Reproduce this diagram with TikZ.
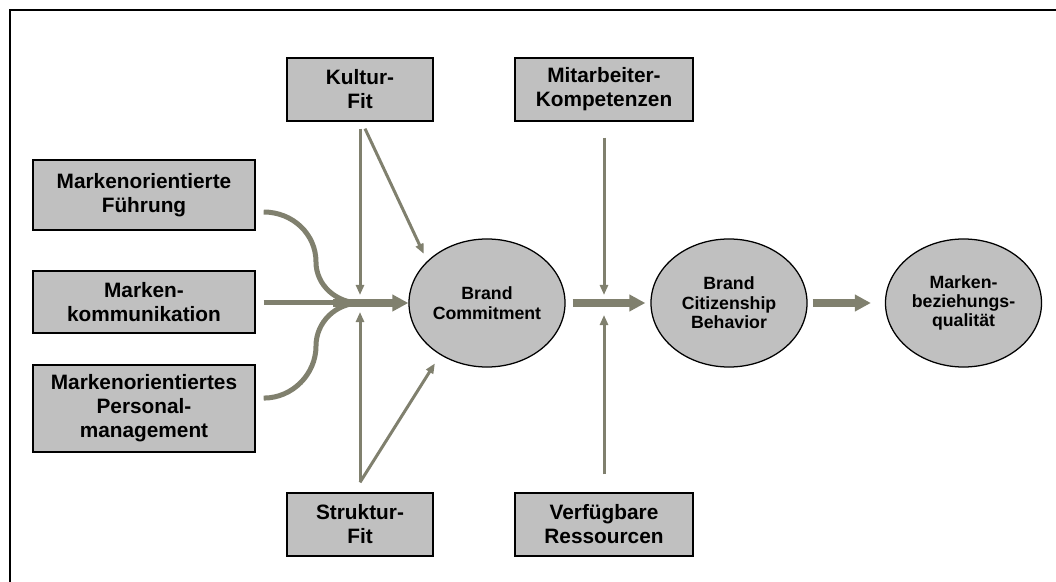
\documentclass[tikz,border=0pt]{standalone}
\usepackage{fontspec}
\setmainfont{Liberation Sans}
\usetikzlibrary{arrows.meta,shapes.geometric}
\definecolor{pfeilgrau}{RGB}{128,128,110}
\definecolor{kastengrau}{RGB}{192,192,192}

\begin{document}
\begin{tikzpicture}[x=0.025cm, y=-0.025cm,
	kasten/.style={draw=black, line width=0.9pt, fill=kastengrau, inner sep=0pt, align=center, font=\fontsize{14.8}{17}\selectfont\bfseries},
	oval/.style={ellipse, draw=black, line width=0.9pt, fill=kastengrau, inner sep=0pt, minimum width=3.9cm, minimum height=3.2cm, align=center, font=\fontsize{12.6}{13.8}\selectfont\bfseries},
	pfeil/.style={draw=pfeilgrau, line width=0.075cm, -{Triangle[length=0.25cm, width=0.2cm]}},
	strang/.style={draw=pfeilgrau, line width=0.125cm},
	dickpfeil/.style={draw=pfeilgrau, line width=0.21cm, -{Triangle[length=0.4cm, width=0.4cm]}}]
		%%%%% START %%%%%
		
		\useasboundingbox (0,0) rectangle (1056,582);
		\draw[line width=1.2pt] (1056,10) -- (10,10) -- (10,582);
		
		\node[kasten, minimum width=3.65cm, minimum height=1.575cm] (kultur) at (360,89.5) {Kultur-\\Fit};
		\node[kasten, minimum width=4.45cm, minimum height=1.575cm] (mitarbeiter) at (604,89.5) {Mitarbeiter-\\Kompetenzen};
		
		\node[kasten, minimum width=5.55cm, minimum height=1.75cm] (fuehrung) at (144,195) {Markenorientierte\\Führung};
		\node[kasten, minimum width=5.55cm, minimum height=1.55cm] (kommunikation) at (144,302) {Marken-\\kommunikation};
		\node[kasten, minimum width=5.55cm, minimum height=2.175cm] (personal) at (144,408.5) {Markenorientiertes\\Personal-\\management};
		
		\node[kasten, minimum width=3.65cm, minimum height=1.575cm] (struktur) at (360,524.5) {Struktur-\\Fit};
		\node[kasten, minimum width=4.45cm, minimum height=1.575cm] (ressourcen) at (604,524.5) {Verfügbare\\Ressourcen};
		
		\node[oval] (commitment) at (487,303) {Brand\\Commitment};
		\node[oval] (citizenship) at (729,303) {Brand\\Citizenship\\Behavior};
		\node[oval] (qualitaet) at (963.5,303) {Marken-\\beziehungs-\\qualität};
		
		\coordinate (links) at (360,303);
		\coordinate (rechts) at (604,303);
		\coordinate (buendel) at (333,303);
		
		% Zufluesse links
		\draw[strang, shorten <=0.2cm] (kommunikation.east |- links) -- (links);
		\draw[strang] ([shift={(0.2cm,-0.425cm)}]fuehrung.east) .. controls +(29,0) and +(0,-28) .. (316,262) .. controls +(0,23) and +(-24,0) .. (links);
		\draw[strang] ([shift={(0.2cm,0.26cm)}]personal.east) .. controls +(29,0) and +(0,28) .. (316,346) .. controls +(0,-24) and +(-24,0) .. (links);
		\draw[dickpfeil] (buendel) -- (commitment.west);
		
		\draw[pfeil] ([yshift=-0.175cm]kultur.south) -- ([yshift=0.2cm]links);
		\draw[pfeil, shorten >=0.2cm] ([shift={(0.125cm,-0.175cm)}]kultur.south) -- (commitment.145);
		\draw[pfeil] ([yshift=0.25cm]struktur.north) -- ([yshift=-0.225cm]links);
		\draw[pfeil, shorten >=0.25cm] ([yshift=0.25cm]struktur.north) -- (commitment.228);
		
		% rechte Seite
		\draw[pfeil] ([yshift=-0.4cm]mitarbeiter.south) -- ([yshift=0.2cm]rechts);
		\draw[pfeil] ([yshift=0.45cm]ressourcen.north) -- ([yshift=-0.3cm]rechts);
		\draw[dickpfeil] ([xshift=0.175cm]commitment.east) -- ([xshift=-0.125cm]citizenship.west);
		\draw[dickpfeil] ([xshift=0.125cm]citizenship.east) -- ([xshift=-0.35cm]qualitaet.west);
		
		%%%%% END %%%%%
	\end{tikzpicture}
\end{document}
